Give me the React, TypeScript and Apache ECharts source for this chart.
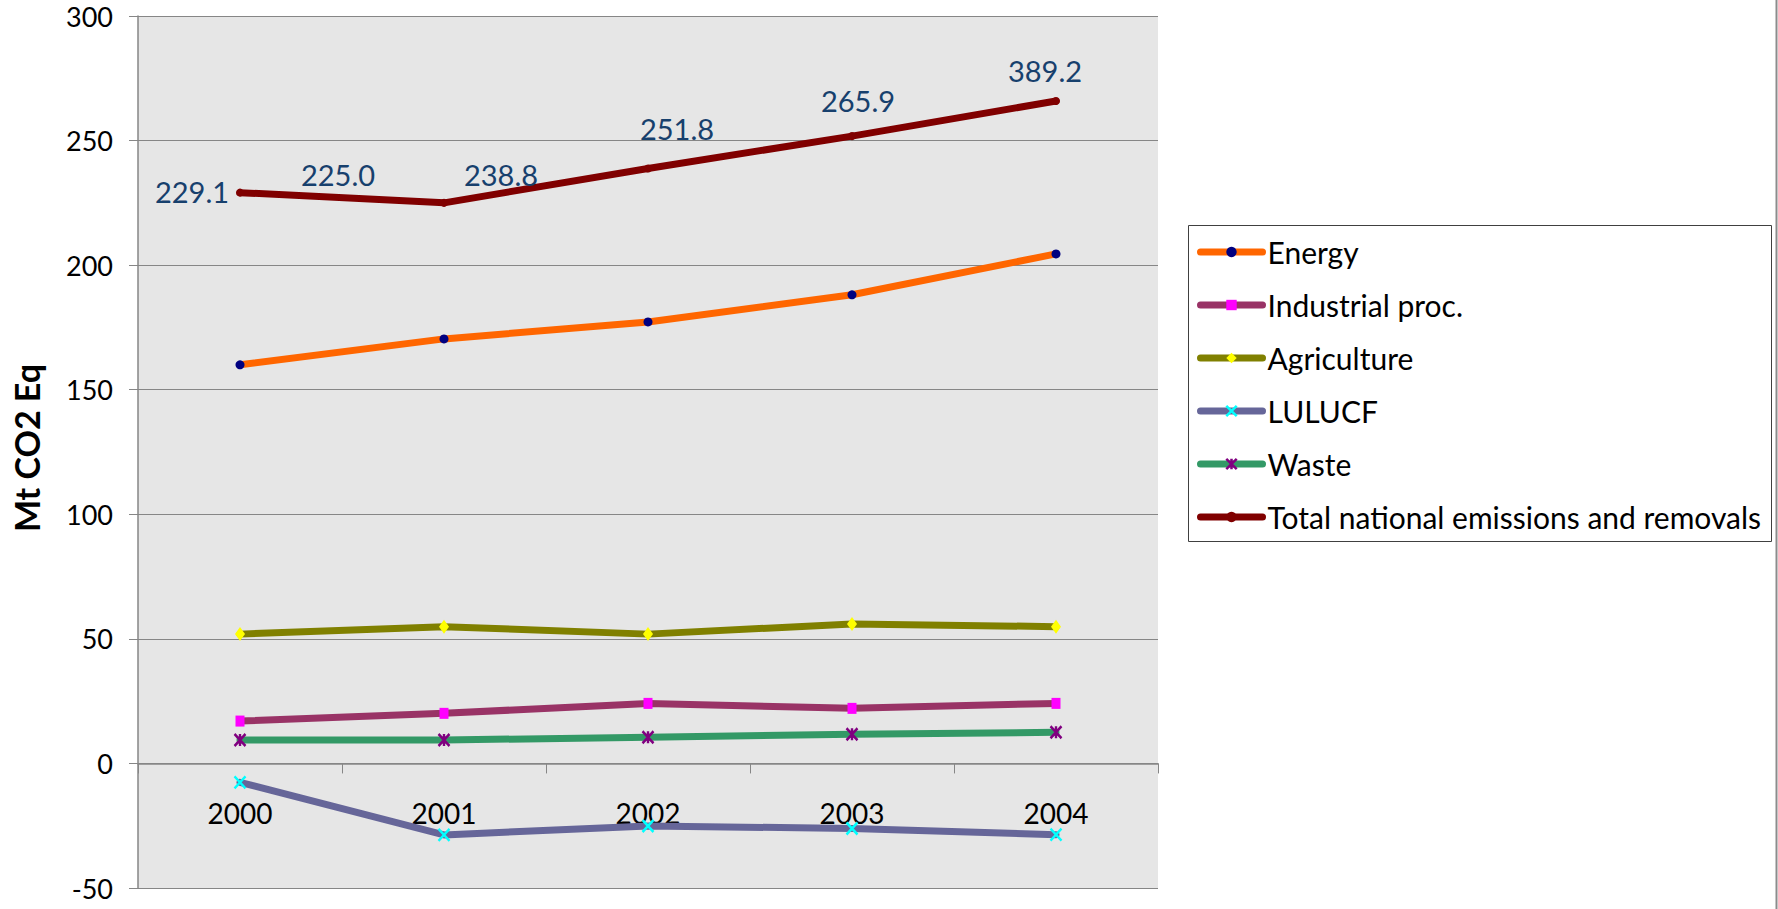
import React, { useEffect, useRef } from 'react';
import * as echarts from 'echarts';

const years = ['2000', '2001', '2002', '2003', '2004'];
const energy = [160.0, 170.4, 177.2, 188.1, 204.5];
const industrial = [17.0, 20.1, 24.1, 22.1, 24.1];
const agriculture = [51.9, 54.9, 51.9, 56.0, 54.9];
const lulucf = [-7.6, -28.7, -25.1, -26.1, -28.6];
const waste = [9.4, 9.4, 10.5, 11.7, 12.5];
const total = [229.1, 225.0, 238.8, 251.8, 265.9];
const totalLabels = ['229.1', '225.0', '251.8', '265.9', '389.2'];
const extraLabelIndex = 1;
const extraLabel = '238.8';
const yMin = -50;
const yMax = 300;
const yStep = 50;

const labelOffsets = [[-48, -1], [-106, -28], [29, -40], [6, -36], [-11, -30]];
const extraLabelOffset = [57, -28];

const FONT = 'Lato';
const LABEL_BLUE = '#17406D';

const X_PATH = 'path://M0,0L10,12M10,0L0,12';
const STAR_PATH = 'path://M0,0L10,12M10,0L0,12M5,0L5,12';

const GRID_TOP = 16;
const GRID_BOTTOM_Y = 888;
const PLOT_H = GRID_BOTTOM_Y - GRID_TOP;
const ZERO_SHIFT = (PLOT_H * (0 - yMin)) / (yMax - yMin);

function buildOption() {
  const lineCommon = (color: string) => ({
    type: 'line',
    lineStyle: { color, width: 7, cap: 'round', join: 'round' },
    emphasis: { disabled: true },
    silent: true,
  });

  const series: any[] = [
    {
      ...lineCommon('#FF6600'),
      name: 'Energy',
      data: energy,
      symbol: 'circle',
      symbolSize: 9,
      itemStyle: { color: '#000080' },
    },
    {
      ...lineCommon('#993366'),
      name: 'Industrial proc.',
      data: industrial,
      symbol: 'rect',
      symbolSize: [9, 11],
      itemStyle: { color: '#FF00FF' },
    },
    {
      ...lineCommon('#808000'),
      name: 'Agriculture',
      data: agriculture,
      symbol: 'diamond',
      symbolSize: [10, 14],
      itemStyle: { color: '#FFFF00' },
    },
    {
      ...lineCommon('#666699'),
      name: 'LULUCF',
      data: lulucf,
      symbol: X_PATH,
      symbolSize: [11, 12],
      itemStyle: { color: 'rgba(0,0,0,0)', borderColor: '#00FFFF', borderWidth: 2.5 },
    },
    {
      ...lineCommon('#339966'),
      name: 'Waste',
      data: waste,
      symbol: STAR_PATH,
      symbolSize: [11, 12],
      itemStyle: { color: 'rgba(0,0,0,0)', borderColor: '#800080', borderWidth: 2.5 },
    },
    {
      ...lineCommon('#800000'),
      name: 'Total national emissions and removals',
      symbol: 'circle',
      symbolSize: 8,
      itemStyle: { color: '#800000' },
      data: total.map((v, i) => ({
        value: v,
        label: {
          show: true,
          formatter: totalLabels[i],
          position: 'inside',
          align: 'center',
          verticalAlign: 'middle',
          offset: labelOffsets[i],
          color: LABEL_BLUE,
          fontSize: 29,
          fontFamily: FONT,
        },
      })),
    },
    {
      type: 'line',
      name: 'label-helper',
      silent: true,
      emphasis: { disabled: true },
      symbol: 'circle',
      symbolSize: 1,
      itemStyle: { color: 'rgba(0,0,0,0)' },
      lineStyle: { width: 0, opacity: 0 },
      data: total.map((v, i) =>
        i === extraLabelIndex
          ? {
              value: v,
              label: {
                show: true,
                formatter: extraLabel,
                position: 'inside',
                align: 'center',
                verticalAlign: 'middle',
                offset: extraLabelOffset,
                color: LABEL_BLUE,
                fontSize: 29,
                fontFamily: FONT,
              },
            }
          : { value: v, label: { show: false } }
      ),
    },
  ];

  return {
    animation: false,
    backgroundColor: '#ffffff',
    textStyle: { fontFamily: FONT },
    grid: {
      left: 138,
      right: 1778 - 1158,
      top: GRID_TOP,
      bottom: 909 - GRID_BOTTOM_Y,
      show: true,
      backgroundColor: '#E6E6E6',
      borderWidth: 0,
      containLabel: false,
      outerBoundsMode: 'none',
    },
    legend: {
      orient: 'vertical',
      left: 1197,
      top: 236,
      padding: 0,
      itemWidth: 62,
      itemHeight: 13,
      itemGap: 21,
      selectedMode: false,
      textStyle: { fontSize: 30, lineHeight: 32, color: '#000', fontFamily: FONT },
      lineStyle: { width: 7 },
      data: [
        { name: 'Energy' },
        { name: 'Industrial proc.' },
        { name: 'Agriculture' },
        { name: 'LULUCF', itemStyle: { borderWidth: 2.5, borderColor: '#00FFFF' } },
        { name: 'Waste', itemStyle: { borderWidth: 2.5, borderColor: '#800080' } },
        { name: 'Total national emissions and removals' },
      ],
    },
    xAxis: {
      type: 'category',
      data: years,
      boundaryGap: true,
      position: 'bottom',
      offset: -ZERO_SHIFT,
      axisLine: { show: true, onZero: false, lineStyle: { color: '#868686', width: 1.5 } },
      axisTick: { show: true, length: 10, inside: false, lineStyle: { color: '#868686', width: 1 } },
      axisLabel: { color: '#000', fontSize: 28, margin: 36, fontFamily: FONT },
      splitLine: { show: false },
    },
    yAxis: {
      type: 'value',
      min: yMin,
      max: yMax,
      interval: yStep,
      axisLine: { show: true, lineStyle: { color: '#868686', width: 1.5 } },
      axisTick: { show: true, length: 9, inside: false, lineStyle: { color: '#868686', width: 1 } },
      axisLabel: { color: '#000', fontSize: 27, margin: 25, fontFamily: FONT },
      splitLine: { show: true, lineStyle: { color: '#868686', width: 1 } },
    },
    graphic: [
      {
        type: 'rect',
        silent: true,
        shape: { x: 1188.5, y: 225.5, width: 583, height: 316 },
        style: { fill: 'none', stroke: '#404040', lineWidth: 1 },
      },
      {
        type: 'line',
        silent: true,
        shape: { x1: 1776.5, y1: 0, x2: 1776.5, y2: 909 },
        style: { stroke: '#8c8c8c', lineWidth: 2 },
      },
      {
        type: 'text',
        silent: true,
        x: 26,
        y: 448,
        rotation: Math.PI / 2,
        style: {
          text: 'Mt CO2 Eq',
          fontFamily: FONT,
          fontWeight: 'bold',
          fontSize: 34,
          fill: '#000',
          align: 'center',
          verticalAlign: 'middle',
        },
      },
    ],
    series,
  };
}

export default function App() {
  const ref = useRef<HTMLDivElement>(null);
  useEffect(() => {
    if (!ref.current) return;
    const chart = echarts.init(ref.current, null, { renderer: 'svg' });
    chart.setOption(buildOption() as any);
    return () => chart.dispose();
  }, []);
  return (
    <div
      ref={ref}
      style={{ position: 'absolute', left: 0, top: 0, width: 1778, height: 909 }}
    />
  );
}
